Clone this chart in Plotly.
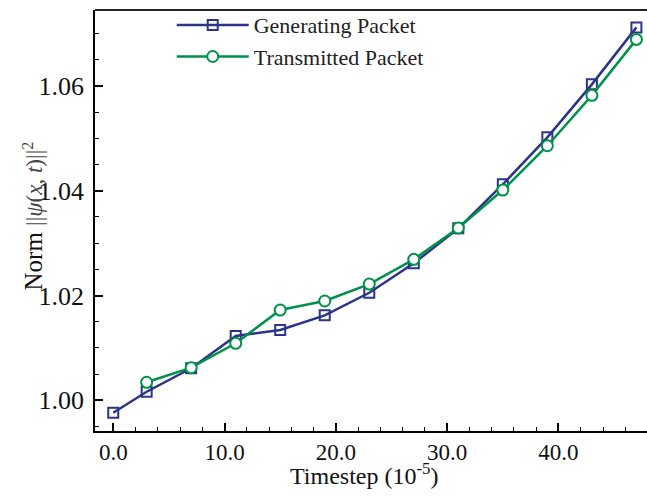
import plotly.graph_objects as go

timestep_gen = [0, 3, 7, 11, 15, 19, 23, 27, 31, 35, 39, 43, 47]
norm_gen = [0.99763, 1.00164, 1.00611, 1.01227, 1.01342, 1.01622, 1.02053,
            1.02615, 1.03282, 1.04122, 1.05019, 1.06031, 1.07118]

timestep_tx = [3, 7, 11, 15, 19, 23, 27, 31, 35, 39, 43, 47]
norm_tx = [1.00344, 1.00622, 1.01088, 1.01723, 1.01895, 1.02219, 1.02691,
           1.03288, 1.04013, 1.04859, 1.05821, 1.06889]

NAVY = "#2c3487"
GREEN = "#00914b"
FONT = "Liberation Serif"

fig = go.Figure()
fig.add_trace(go.Scatter(
    x=timestep_gen, y=norm_gen, mode="lines+markers", name="Generating Packet",
    line=dict(color=NAVY, width=2.5),
    marker=dict(symbol="square-open", size=10, color=NAVY, line=dict(width=2, color=NAVY)),
))
fig.add_trace(go.Scatter(
    x=timestep_tx, y=norm_tx, mode="lines+markers", name="Transmitted Packet",
    line=dict(color=GREEN, width=2.5),
    marker=dict(symbol="circle", size=11, color="white", line=dict(width=2, color=GREEN)),
))

# plot area extends slightly past the 647px window so the right edge is open, as in the original
fig.update_layout(
    width=655, height=496,
    margin=dict(l=95, r=0, t=10, b=65, autoexpand=False),
    paper_bgcolor="white", plot_bgcolor="white",
    font=dict(family=FONT, color="#111"),
    showlegend=True,
    legend=dict(x=0.137, y=1.014, xanchor="left", yanchor="top",
                font=dict(family=FONT, size=22, color="#222"),
                bgcolor="rgba(0,0,0,0)", tracegroupgap=0, itemwidth=72),
    shapes=[dict(type="line", xref="paper", yref="paper", x0=0, x1=1, y0=1, y1=1,
                 line=dict(color="#222", width=1.8), layer="above")],
    annotations=[
        dict(
            text="Norm <span style='font-size:23px;color:#444'>||<i>ψ</i>(<i>x</i>, <i>t</i>)||<sup>2</sup></span>",
            xref="paper", yref="paper", x=0, y=0.5, xshift=-62, yshift=4,
            xanchor="center", yanchor="middle", textangle=-90, showarrow=False,
            font=dict(family=FONT, size=25, color="#111"),
        ),
        dict(
            text="Timestep (10<sup>-5</sup>)",
            xref="paper", yref="paper", x=0.481, y=0, yshift=-43,
            xanchor="center", yanchor="middle", showarrow=False,
            font=dict(family=FONT, size=24, color="#111"),
        ),
    ],
)

fig.update_xaxes(
    automargin=False,
    range=[-1.64, 48.67], showgrid=False, zeroline=False,
    showline=True, linecolor="black", linewidth=1.8, mirror=False,
    ticks="inside", ticklen=8, tickwidth=1.5, tickcolor="black",
    tickmode="linear", tick0=0, dtick=10, tickformat=".1f",
    tickfont=dict(family=FONT, size=23, color="#111"),
    ticklabelstandoff=-1,
    minor=dict(ticks="inside", ticklen=4, tickwidth=1.2, tickcolor="black", dtick=2, tick0=0, showgrid=False),
)
fig.update_yaxes(
    automargin=False,
    range=[0.99414, 1.0745], showgrid=False, zeroline=False,
    showline=True, linecolor="black", linewidth=1.8, mirror=False,
    ticks="inside", ticklen=8, tickwidth=1.5, tickcolor="black",
    tickmode="linear", tick0=1.0, dtick=0.02, tickformat=".2f",
    tickfont=dict(family=FONT, size=26, color="#111"),
    ticklabelstandoff=4,
    minor=dict(ticks="inside", ticklen=4, tickwidth=1.2, tickcolor="black", dtick=0.005, tick0=1.0, showgrid=False),
)

fig.write_html(
    "out.html",
    config={"displayModeBar": False},
    post_script="document.documentElement.style.overflow='hidden';document.body.style.margin='0px';document.body.style.overflow='hidden';",
)
